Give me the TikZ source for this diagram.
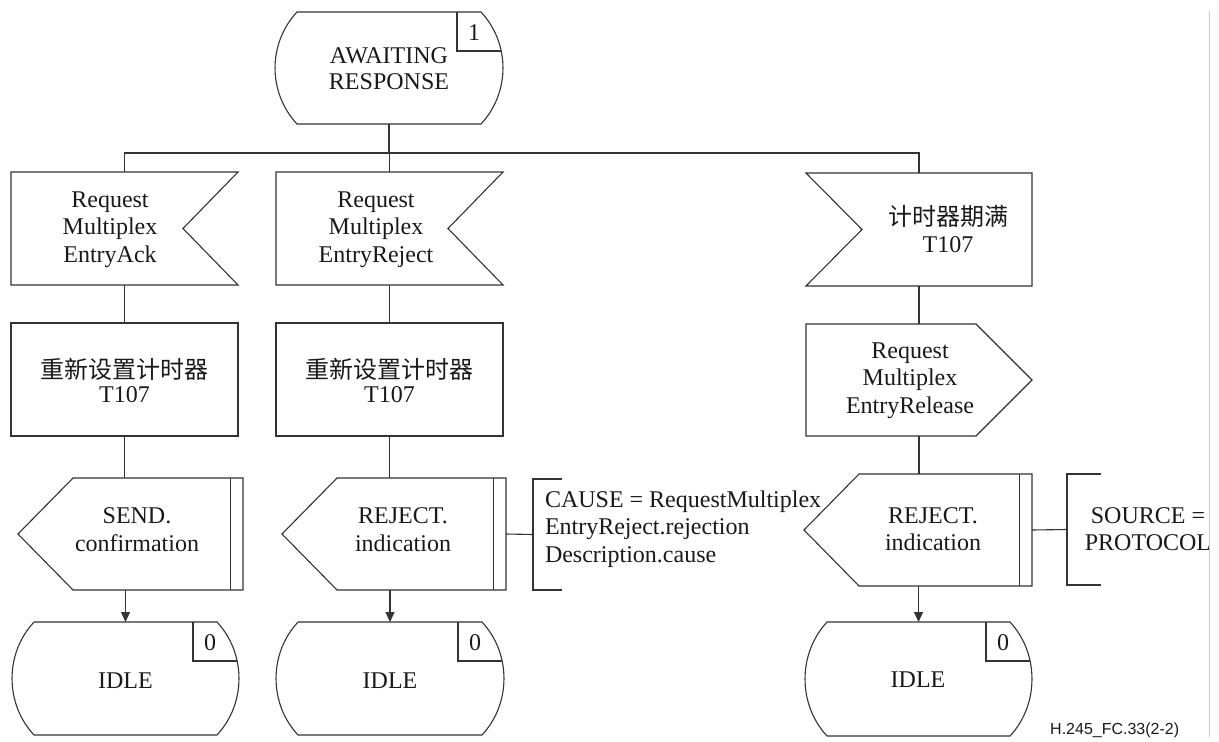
\documentclass[tikz,border=0pt]{standalone}
\usepackage{fontspec}
\setmainfont{Liberation Serif}
\newfontfamily\cjk{Noto Sans CJK SC}
\newfontfamily\capsans{Liberation Sans}
\usetikzlibrary{arrows.meta,calc}
\definecolor{edgepink}{RGB}{245,185,185}
\newcommand\mkbox[5]{\node[bbox, minimum width={(#4-#2)*1pt}, minimum height={(#5-#3)*1pt}] (#1) at ({(#2+#4)/2},{(#3+#5)/2}) {};}
\newcommand\mystatepath[1]{($(#1.north west)+(22,0)$) -- ($(#1.north east)+(-22,0)$) .. controls ($(#1.north east)+(7.3,31.5)$) and ($(#1.south east)+(7.3,-31.5)$) .. ($(#1.south east)+(-22,0)$) -- ($(#1.south west)+(22,0)$) .. controls ($(#1.south west)+(-7.3,-31.5)$) and ($(#1.north west)+(-7.3,31.5)$) .. cycle}
\newcommand\mystate[2]{%
  \draw[ln] \mystatepath{#1};
  \begin{scope}
    \clip \mystatepath{#1};
    \draw[ln] ($(#1.north east)+(-46,-5)$) -- ($(#1.north east)+(-46,39)$) -- ($(#1.north east)+(20,39)$);
  \end{scope}
  \node[txt, anchor=center] (#1num) at ($(#1.north east)+(-29,21)$) {#2};}
\newcommand\myinR[1]{\draw[ln] (#1.north west) -- (#1.north east) -- ($(#1.east)+(-55,0)$) -- (#1.south east) -- (#1.south west) -- cycle;}
\newcommand\myinL[1]{\draw[ln] (#1.north west) -- (#1.north east) -- (#1.south east) -- (#1.south west) -- ($(#1.west)+(56,0)$) -- cycle;}
\newcommand\myoutL[1]{\draw[ln] ($(#1.north west)+(55,0)$) -- (#1.north east) -- (#1.south east) -- ($(#1.south west)+(55,0)$) -- (#1.west) -- cycle;
  \draw[ln] ($(#1.north east)+(-12.5,0)$) -- ($(#1.south east)+(-12.5,0)$);}
\newcommand\myoutR[1]{\draw[ln] (#1.north west) -- ($(#1.north east)+(-56,0)$) -- (#1.east) -- ($(#1.south east)+(-56,0)$) -- (#1.south west) -- cycle;}
\newcommand\mytask[1]{\draw[ln] (#1.north west) rectangle (#1.south east);}
\newcommand\mybrack[1]{\draw[ln] (#1.north east) -- (#1.north west) -- (#1.south west) -- (#1.south east);}
\newcommand\fst{\rule{0pt}{22pt}}
% name, options, x, first baseline y, text
\newcommand\mytext[5]{\node[txt,#2] (#1) at ({#3},{#4-22}) {\fst#5};}
\begin{document}
\begin{tikzpicture}[x=1pt,y=-1pt,
  ln/.style={draw=black!80, line width=1.1pt, line join=miter},
  arr/.style={ln, -{Triangle[length=10pt,width=9pt]}},
  bbox/.style={inner sep=0pt, outer sep=0pt, draw=none, rectangle},
  txt/.style={inner sep=0pt, outer sep=0pt, align=center, anchor=north, text=black!90, font=\fontsize{24}{27.5}\selectfont},
]
\useasboundingbox (0,0) rectangle (1219,742);

% symbol frames
\mkbox{top}{275}{12}{503}{124}
\mkbox{s1}{11}{172}{238}{285}
\mkbox{s2}{276}{172}{503}{285}
\mkbox{s3}{806}{173}{1032}{286}
\mkbox{t1}{11}{323}{238}{436}
\mkbox{t2}{276}{323}{503}{436}
\mkbox{r3}{806}{324}{1032}{436}
\mkbox{o1}{18}{478}{243}{590}
\mkbox{o2}{282}{478}{506}{590}
\mkbox{o3}{804}{474}{1032}{586}
\mkbox{c2}{533}{479}{562}{590}
\mkbox{c3}{1067}{474}{1101}{585}
\mkbox{i1}{12}{622}{239}{735}
\mkbox{i2}{276}{622}{504}{735}
\mkbox{i3}{805}{622}{1032}{736}

% shapes
\mystate{top}{1}
\myinR{s1}
\myinR{s2}
\myinL{s3}
\mytask{t1}
\mytask{t2}
\myoutR{r3}
\myoutL{o1}
\myoutL{o2}
\myoutL{o3}
\mybrack{c2}
\mybrack{c3}
\mystate{i1}{0}
\mystate{i2}{0}
\mystate{i3}{0}

% connectors
\coordinate (bar) at (389,153);
\draw[ln] (top.south) -- (bar);
\draw[ln] (s1.north) |- (bar) -| (s3.north);
\draw[ln] (bar -| s2.north) -- (s2.north);
\draw[ln] (s1.south) -- (t1.north);
\draw[ln] (s2.south) -- (t2.north);
\draw[ln] (s3.south) -- (r3.north);
\draw[ln] (t1.south) -- (t1.south |- o1.north);
\draw[ln] (t2.south) -- (t2.south |- o2.north);
\draw[ln] (r3.south) -- (r3.south |- o3.north);
\draw[arr] (i1.north |- o1.south) -- (i1.north);
\draw[arr] (i2.north |- o2.south) -- (i2.north);
\draw[arr] (i3.north |- o3.south) -- (i3.north);
\draw[ln] (o2.east) -- (c2.west);
\draw[ln] (o3.east) -- (c3.west);

% texts
\mytext{toptxt}{font=\fontsize{24}{26}\selectfont}{389}{63}{AWAITING\\RESPONSE}
\mytext{s1txt}{}{110}{207}{Request\\Multiplex\\EntryAck}
\mytext{s2txt}{}{376}{207}{Request\\Multiplex\\EntryReject}
\mytext{s3txt}{font=\fontsize{24}{27}\selectfont}{948}{225}{{\cjk 计时器期满}\\T107}
\mytext{t1txt}{font=\fontsize{24}{24}\selectfont}{124.5}{378}{{\cjk 重新设置计时器}\\T107}
\mytext{t2txt}{font=\fontsize{24}{24}\selectfont}{389.5}{378}{{\cjk 重新设置计时器}\\T107}
\mytext{r3txt}{}{910}{358}{Request\\Multiplex\\EntryRelease}
\mytext{o1txt}{font=\fontsize{24}{28}\selectfont}{137}{523}{SEND.\\confirmation}
\mytext{o2txt}{font=\fontsize{24}{28}\selectfont}{403}{523}{REJECT.\\indication}
\mytext{o3txt}{font=\fontsize{24}{27}\selectfont}{933}{523}{REJECT.\\indication}
\mytext{c2txt}{anchor=north west, align=left}{545}{507}{CAUSE = RequestMultiplex\\EntryReject.rejection\\Description.cause}
\begin{scope}
  \clip (1040,440) rectangle (1209.5,620);
  \mytext{c3txt}{font=\fontsize{24}{27}\selectfont}{1148}{523}{SOURCE =\\PROTOCOL}
\end{scope}
\mytext{i1txt}{}{125.5}{688}{IDLE}
\mytext{i2txt}{}{390}{688}{IDLE}
\mytext{i3txt}{}{918}{687}{IDLE}
\node[inner sep=0pt, anchor=base west, text=black!90, font=\capsans\fontsize{16}{18}\selectfont] (caption) at (1050,734) {H.245\_FC.33(2-2)};

% scan edge
\draw[edgepink, line width=1pt] (1209,11) -- (1209,737);
\end{tikzpicture}
\end{document}
